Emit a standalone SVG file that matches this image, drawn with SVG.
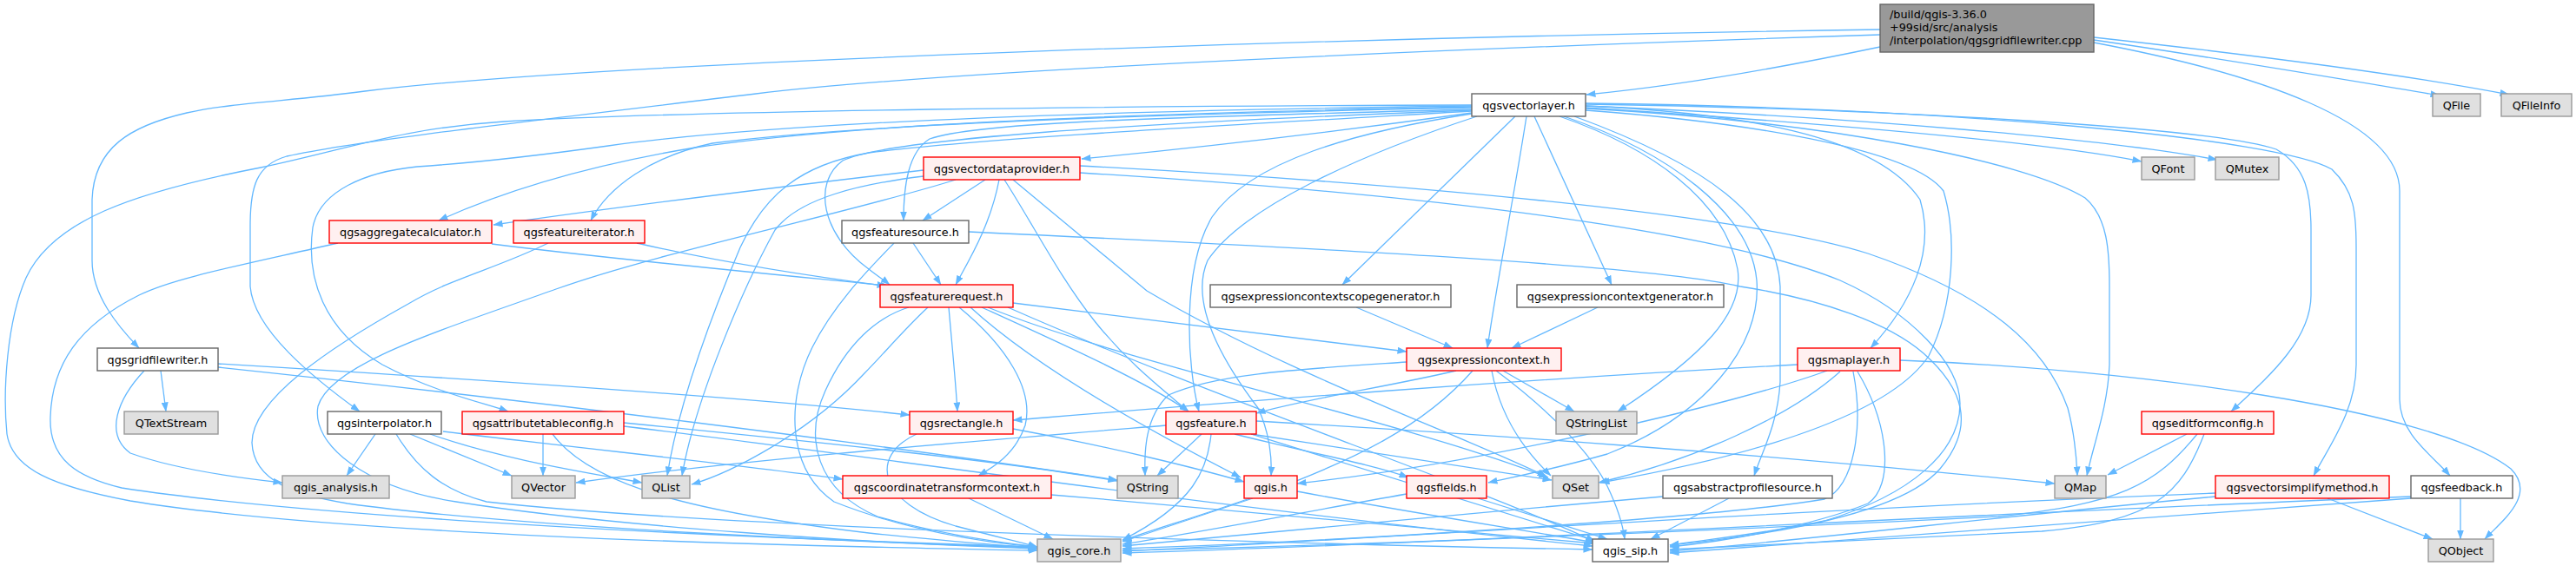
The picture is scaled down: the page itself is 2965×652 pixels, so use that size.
<svg xmlns="http://www.w3.org/2000/svg" width="2965" height="652" viewBox="0 0 2965 652">
<defs>
<marker id="ah" markerWidth="11" markerHeight="8" refX="10.5" refY="4" orient="auto" markerUnits="userSpaceOnUse"><path d="M0,0 L11,4 L0,8 z" fill="#63b8ff"/></marker>
<style>
.e{fill:none;stroke:#63b8ff;stroke-width:1.3;marker-end:url(#ah)}
.w{fill:#ffffff;stroke:#666666;stroke-width:1.4}
.r{fill:#fff0f0;stroke:#ff0000;stroke-width:1.4}
.g{fill:#e0e0e0;stroke:#999999;stroke-width:1.4}
.rt{fill:#999999;stroke:#666666;stroke-width:1.4}
text{font-family:"DejaVu Sans","Liberation Sans",sans-serif;font-size:12.8px;fill:#000000;text-anchor:middle}
text.l{text-anchor:start}
</style>
</defs>
<rect width="2965" height="652" fill="#ffffff"/>
<g id="edges">
<path class="e" d="M2164,54 C2040,80 1920,100 1826,109"/>
<path class="e" d="M2164,34 C1600,42 700,70 420,105 C330,117 270,118 215,130 C150,145 108,170 106,230 L106,300 C106,340 135,375 160,401"/>
<path class="e" d="M2164,40 C1700,55 1100,80 870,108 C650,135 420,160 330,180 C295,190 288,215 288,260 L288,330 C292,380 360,435 414,474"/>
<path class="e" d="M2410,46 C2560,68 2700,92 2808,110"/>
<path class="e" d="M2410,43 C2600,64 2780,88 2888,109"/>
<path class="e" d="M2410,49 C2600,85 2762,140 2762,220 L2762,460 C2762,500 2800,525 2820,548"/>
<path class="e" d="M1694,130 C1550,150 1380,170 1245,183"/>
<path class="e" d="M1694,123 C1350,130 1000,140 800,170 C680,190 580,220 505,254"/>
<path class="e" d="M1694,124 C1350,131 1000,142 820,165 C750,180 700,215 680,254"/>
<path class="e" d="M1694,126 C1300,136 1120,142 1070,160 C1045,175 1040,215 1040,254"/>
<path class="e" d="M1694,127 C1300,142 1020,160 970,185 C935,210 945,270 1000,310 C1010,318 1018,323 1024,328"/>
<path class="e" d="M1694,122 C1300,127 900,140 700,168 C600,182 540,188 480,192 C420,198 368,220 360,262 C352,320 372,380 440,420 C500,452 560,465 585,474"/>
<path class="e" d="M1694,121 C1300,122 800,127 580,140 C460,148 400,172 300,193 C150,222 60,255 30,320 C8,370 3,450 8,500 C14,540 60,560 150,577 C320,605 650,622 1000,630 C1080,632 1150,634 1194,634"/>
<path class="e" d="M1694,128 C1400,145 1120,160 1000,176 C920,190 880,225 852,285 C812,380 780,470 768,548"/>
<path class="e" d="M1700,134 C1560,180 1430,240 1390,300 C1368,350 1410,420 1448,470 C1462,500 1464,530 1463,548"/>
<path class="e" d="M1694,131 C1560,152 1440,185 1395,250 C1360,310 1366,420 1380,474"/>
<path class="e" d="M1744,134 L1545,328"/>
<path class="e" d="M1757,134 C1742,230 1722,330 1712,401"/>
<path class="e" d="M1766,134 L1855,328"/>
<path class="e" d="M1795,134 C1900,170 1985,230 2000,310 C2008,360 1960,410 1862,474"/>
<path class="e" d="M1800,134 C1920,175 2015,245 2022,323 C2028,400 1960,480 1850,523 C1790,540 1740,550 1713,556"/>
<path class="e" d="M1825,127 C2000,140 2200,170 2237,220 C2252,270 2250,350 2220,410 C2180,470 2050,520 1842,556"/>
<path class="e" d="M1812,134 C1965,190 2045,250 2049,330 L2049,440 C2046,490 2028,520 2019,548"/>
<path class="e" d="M1825,122 C2000,130 2160,155 2210,230 C2228,290 2200,350 2153,401"/>
<path class="e" d="M1825,125 C2100,140 2330,185 2400,228 C2426,250 2428,290 2428,330 L2428,420 C2426,470 2410,510 2402,548"/>
<path class="e" d="M1825,124 C2100,142 2350,163 2465,186"/>
<path class="e" d="M1825,122 C2150,136 2420,160 2552,184"/>
<path class="e" d="M1825,120 C2200,126 2550,148 2620,172 C2655,192 2660,225 2660,265 L2660,340 C2660,392 2610,435 2568,474"/>
<path class="e" d="M1825,119 C2250,124 2625,160 2684,195 C2710,220 2712,245 2712,285 L2712,420 C2712,472 2682,512 2663,548"/>
<path class="e" d="M1063,196 C900,215 700,240 568,259"/>
<path class="e" d="M1134,207 L1062,254"/>
<path class="e" d="M1150,207 C1140,260 1115,300 1100,328"/>
<path class="e" d="M1156,207 C1190,260 1220,320 1260,370 C1300,420 1340,450 1368,474"/>
<path class="e" d="M1166,207 C1230,260 1290,310 1320,335 C1480,430 1680,500 1780,549"/>
<path class="e" d="M1243,191 C1600,210 2000,245 2150,292 C2290,340 2355,400 2380,470 C2388,500 2390,525 2391,548"/>
<path class="e" d="M1243,199 C1550,218 1950,255 2118,323 C2200,360 2256,420 2256,465 C2256,520 2200,570 2100,600 C2030,615 1960,622 1922,628"/>
<path class="e" d="M1063,203 C990,212 920,228 892,265 C856,330 800,460 785,548"/>
<path class="e" d="M1100,207 C980,245 760,290 640,333 C500,383 380,420 366,468 C358,512 420,562 525,578 C700,606 1000,626 1194,632"/>
<path class="e" d="M566,281 C700,298 880,315 1020,329"/>
<path class="e" d="M389,280 C280,305 200,320 160,340 C90,375 60,420 58,480 C56,530 90,550 140,562 C320,590 700,615 1194,630"/>
<path class="e" d="M733,280 C820,300 930,318 1024,330"/>
<path class="e" d="M631,280 C570,310 520,320 470,350 C380,400 290,460 290,510 C292,555 340,570 400,580 C600,608 1000,625 1194,631"/>
<path class="e" d="M1051,280 L1083,328"/>
<path class="e" d="M1029,280 C1000,310 960,350 935,400 C905,460 905,540 960,578 C1040,610 1130,625 1194,630"/>
<path class="e" d="M1115,267 C1500,285 1900,305 2003,330 C2100,345 2175,373 2214,407 C2259,447 2275,490 2233,540 C2190,590 2050,615 1922,628"/>
<path class="e" d="M1166,349 C1350,372 1500,390 1619,405"/>
<path class="e" d="M1092,354 C1096,400 1100,440 1102,474"/>
<path class="e" d="M1104,354 C1160,400 1190,450 1180,490 C1168,525 1140,540 1126,548"/>
<path class="e" d="M1130,354 C1220,395 1320,440 1368,474"/>
<path class="e" d="M1117,354 C1200,430 1340,505 1428,550"/>
<path class="e" d="M1137,354 C1300,420 1600,480 1782,550"/>
<path class="e" d="M1068,354 C1040,380 1015,410 995,430 C930,500 840,545 796,558"/>
<path class="e" d="M1046,354 C1010,365 975,395 950,450 C925,505 940,565 1010,595 C1080,615 1150,625 1194,630"/>
<path class="e" d="M1160,354 C1400,460 1700,560 1836,624"/>
<path class="e" d="M1561,354 L1672,401"/>
<path class="e" d="M1839,354 L1740,401"/>
<path class="e" d="M1676,427 C1600,445 1500,460 1446,476"/>
<path class="e" d="M1619,417 C1500,425 1400,430 1345,455 C1318,480 1317,520 1318,548"/>
<path class="e" d="M1730,427 L1812,474"/>
<path class="e" d="M1717,427 C1725,470 1745,510 1785,548"/>
<path class="e" d="M1722,427 C1780,470 1830,520 1850,560 C1862,585 1868,605 1870,621"/>
<path class="e" d="M1695,427 C1640,490 1560,530 1450,570 C1380,595 1320,612 1292,623"/>
<path class="e" d="M1383,500 L1332,548"/>
<path class="e" d="M1394,500 C1390,540 1375,580 1292,622"/>
<path class="e" d="M1421,500 C1500,520 1580,535 1621,550"/>
<path class="e" d="M1440,500 C1600,525 1700,540 1786,553"/>
<path class="e" d="M1440,500 C1600,550 1760,600 1836,623"/>
<path class="e" d="M1446,485 C1700,500 2000,520 2365,557"/>
<path class="e" d="M1342,490 C1100,510 850,530 663,556"/>
<path class="e" d="M1166,494 C1280,515 1380,540 1432,555"/>
<path class="e" d="M1055,500 C1000,525 1010,580 1100,606 C1150,619 1180,626 1194,630"/>
<path class="e" d="M625,500 L625,548"/>
<path class="e" d="M636,500 C680,560 800,590 1000,614 C1100,624 1160,629 1194,631"/>
<path class="e" d="M718,487 C900,505 1150,530 1286,554"/>
<path class="e" d="M718,491 C1000,525 1400,585 1833,629"/>
<path class="e" d="M432,500 L399,548"/>
<path class="e" d="M472,500 L589,548"/>
<path class="e" d="M495,500 C580,530 680,545 739,556"/>
<path class="e" d="M510,497 C700,520 850,535 970,552"/>
<path class="e" d="M456,500 C480,540 510,565 560,578 C800,605 1400,625 1833,633"/>
<path class="e" d="M185,427 L191,474"/>
<path class="e" d="M166,427 C135,460 120,500 150,522 C200,540 270,550 325,556"/>
<path class="e" d="M251,419 C600,440 900,462 1047,478"/>
<path class="e" d="M251,423 C600,460 1000,510 1286,553"/>
<path class="e" d="M1115,574 L1212,621"/>
<path class="e" d="M1210,570 C1450,590 1700,612 1835,626"/>
<path class="e" d="M1442,574 L1292,624"/>
<path class="e" d="M1493,566 C1620,590 1750,610 1835,625"/>
<path class="e" d="M1619,569 C1500,590 1400,610 1292,627"/>
<path class="e" d="M1701,574 L1850,621"/>
<path class="e" d="M1914,572 C1700,590 1450,615 1292,629"/>
<path class="e" d="M1990,574 L1900,621"/>
<path class="e" d="M2069,420 C1700,440 1400,465 1166,484"/>
<path class="e" d="M2187,415 C2450,425 2800,470 2890,540 C2920,570 2880,600 2860,621"/>
<path class="e" d="M2103,427 C2000,465 1700,535 1493,557"/>
<path class="e" d="M2118,428 C2060,480 1950,530 1840,556"/>
<path class="e" d="M2133,428 C2145,490 2135,560 2100,575 C1950,600 1500,625 1292,632"/>
<path class="e" d="M2138,428 C2175,490 2180,560 2150,580 C2080,608 1980,624 1922,630"/>
<path class="e" d="M2517,500 L2426,547"/>
<path class="e" d="M2529,500 C2480,560 2440,580 2300,595 C1900,615 1500,630 1292,634"/>
<path class="e" d="M2537,500 C2510,570 2480,600 2350,612 C2150,622 2000,630 1922,633"/>
<path class="e" d="M2679,574 L2800,621"/>
<path class="e" d="M2550,568 C2000,590 1600,620 1292,635"/>
<path class="e" d="M2550,572 C2300,595 2100,620 1922,635"/>
<path class="e" d="M2832,574 L2832,621"/>
<path class="e" d="M2775,572 C2200,595 1700,625 1292,637"/>
<path class="e" d="M2775,574 C2400,600 2100,625 1922,637"/>
</g>
<g id="n_root"><rect class="rt" x="2164" y="5" width="246" height="55"/><text class="l" x="2175" y="21">/build/qgis-3.36.0</text><text class="l" x="2175" y="36">+99sid/src/analysis</text><text class="l" x="2175" y="51">/interpolation/qgsgridfilewriter.cpp</text></g>
<g id="n_qgsvectorlayer"><rect class="w" x="1694" y="108" width="131" height="26"/><text x="1759.5" y="125.5">qgsvectorlayer.h</text></g>
<g id="n_QFile"><rect class="g" x="2800" y="108" width="55" height="26"/><text x="2827.5" y="125.5">QFile</text></g>
<g id="n_QFileInfo"><rect class="g" x="2879" y="108" width="81" height="26"/><text x="2919.5" y="125.5">QFileInfo</text></g>
<g id="n_qgsvectordataprovider"><rect class="r" x="1063" y="181" width="180" height="26"/><text x="1153" y="198.5">qgsvectordataprovider.h</text></g>
<g id="n_QFont"><rect class="g" x="2465" y="181" width="61" height="26"/><text x="2495.5" y="198.5">QFont</text></g>
<g id="n_QMutex"><rect class="g" x="2550" y="181" width="73" height="26"/><text x="2586.5" y="198.5">QMutex</text></g>
<g id="n_qgsaggregatecalculator"><rect class="r" x="379" y="254" width="187" height="26"/><text x="472.5" y="271.5">qgsaggregatecalculator.h</text></g>
<g id="n_qgsfeatureiterator"><rect class="r" x="591" y="254" width="151" height="26"/><text x="666.5" y="271.5">qgsfeatureiterator.h</text></g>
<g id="n_qgsfeaturesource"><rect class="w" x="969" y="254" width="146" height="26"/><text x="1042" y="271.5">qgsfeaturesource.h</text></g>
<g id="n_qgsfeaturerequest"><rect class="r" x="1013" y="328" width="153" height="26"/><text x="1089.5" y="345.5">qgsfeaturerequest.h</text></g>
<g id="n_qgsexpressioncontextscopegenerator"><rect class="w" x="1393" y="328" width="277" height="26"/><text x="1531.5" y="345.5">qgsexpressioncontextscopegenerator.h</text></g>
<g id="n_qgsexpressioncontextgenerator"><rect class="w" x="1746" y="328" width="238" height="26"/><text x="1865" y="345.5">qgsexpressioncontextgenerator.h</text></g>
<g id="n_qgsgridfilewriter"><rect class="w" x="112" y="401" width="139" height="26"/><text x="181.5" y="418.5">qgsgridfilewriter.h</text></g>
<g id="n_qgsexpressioncontext"><rect class="r" x="1619" y="401" width="178" height="26"/><text x="1708" y="418.5">qgsexpressioncontext.h</text></g>
<g id="n_qgsmaplayer"><rect class="r" x="2069" y="401" width="118" height="26"/><text x="2128" y="418.5">qgsmaplayer.h</text></g>
<g id="n_QTextStream"><rect class="g" x="143" y="474" width="108" height="26"/><text x="197" y="491.5">QTextStream</text></g>
<g id="n_qgsinterpolator"><rect class="w" x="377" y="474" width="131" height="26"/><text x="442.5" y="491.5">qgsinterpolator.h</text></g>
<g id="n_qgsattributetableconfig"><rect class="r" x="532" y="474" width="186" height="26"/><text x="625" y="491.5">qgsattributetableconfig.h</text></g>
<g id="n_qgsrectangle"><rect class="r" x="1047" y="474" width="119" height="26"/><text x="1106.5" y="491.5">qgsrectangle.h</text></g>
<g id="n_qgsfeature"><rect class="r" x="1342" y="474" width="104" height="26"/><text x="1394" y="491.5">qgsfeature.h</text></g>
<g id="n_QStringList"><rect class="g" x="1791" y="474" width="93" height="26"/><text x="1837.5" y="491.5">QStringList</text></g>
<g id="n_qgseditformconfig"><rect class="r" x="2465" y="474" width="152" height="26"/><text x="2541" y="491.5">qgseditformconfig.h</text></g>
<g id="n_qgis_analysis"><rect class="g" x="325" y="548" width="123" height="26"/><text x="386.5" y="565.5">qgis_analysis.h</text></g>
<g id="n_QVector"><rect class="g" x="589" y="548" width="73" height="26"/><text x="625.5" y="565.5">QVector</text></g>
<g id="n_QList"><rect class="g" x="739" y="548" width="55" height="26"/><text x="766.5" y="565.5">QList</text></g>
<g id="n_qgscoordinatetransformcontext"><rect class="r" x="970" y="548" width="240" height="26"/><text x="1090" y="565.5">qgscoordinatetransformcontext.h</text></g>
<g id="n_QString"><rect class="g" x="1286" y="548" width="70" height="26"/><text x="1321" y="565.5">QString</text></g>
<g id="n_qgis"><rect class="r" x="1432" y="548" width="61" height="26"/><text x="1462.5" y="565.5">qgis.h</text></g>
<g id="n_qgsfields"><rect class="r" x="1619" y="548" width="92" height="26"/><text x="1665" y="565.5">qgsfields.h</text></g>
<g id="n_QSet"><rect class="g" x="1787" y="548" width="53" height="26"/><text x="1813.5" y="565.5">QSet</text></g>
<g id="n_qgsabstractprofilesource"><rect class="w" x="1914" y="548" width="195" height="26"/><text x="2011.5" y="565.5">qgsabstractprofilesource.h</text></g>
<g id="n_QMap"><rect class="g" x="2365" y="548" width="59" height="26"/><text x="2394.5" y="565.5">QMap</text></g>
<g id="n_qgsvectorsimplifymethod"><rect class="r" x="2550" y="548" width="200" height="26"/><text x="2650" y="565.5">qgsvectorsimplifymethod.h</text></g>
<g id="n_qgsfeedback"><rect class="w" x="2775" y="548" width="117" height="26"/><text x="2833.5" y="565.5">qgsfeedback.h</text></g>
<g id="n_qgis_core"><rect class="g" x="1194" y="621" width="96" height="26"/><text x="1242" y="638.5">qgis_core.h</text></g>
<g id="n_qgis_sip"><rect class="w" x="1833" y="621" width="87" height="26"/><text x="1876.5" y="638.5">qgis_sip.h</text></g>
<g id="n_QObject"><rect class="g" x="2795" y="621" width="75" height="26"/><text x="2832.5" y="638.5">QObject</text></g>
</svg>
